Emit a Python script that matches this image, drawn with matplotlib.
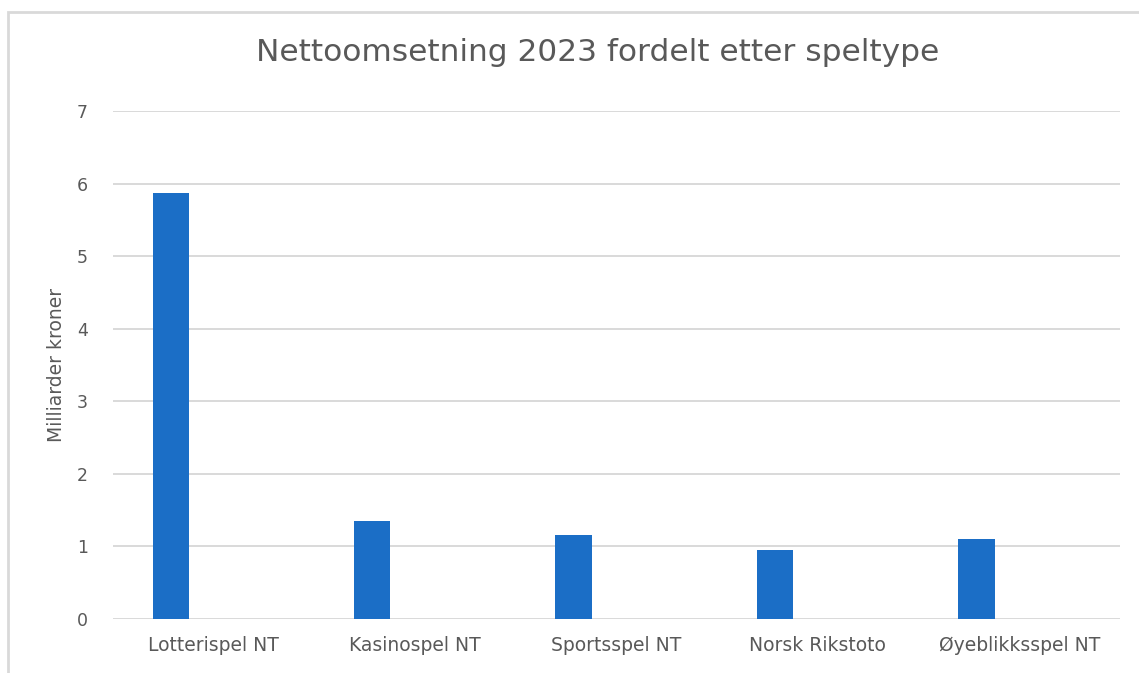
import numpy as np
import matplotlib.pyplot as plt
from matplotlib.patches import Rectangle

categories = ['Lotterispel NT', 'Kasinospel NT', 'Sportsspel NT', 'Norsk Rikstoto', 'Øyeblikksspel NT']
values = [5.87, 1.35, 1.16, 0.945, 1.105]
yticks = [0, 1, 2, 3, 4, 5, 6, 7]

grey = '#595959'

fig = plt.figure(figsize=(11.39, 6.73), dpi=100)
ax = fig.add_axes([0.0992, 0.0802, 0.8841, 0.7548])

# outer chart border (only top and left visible in the reference)
fig.patches.append(Rectangle((8 / 1139, -0.1), 1.2, 1 - 12 / 673 + 0.1,
                             transform=fig.transFigure, fill=False,
                             edgecolor='#d9d9d9', linewidth=2))

x = np.arange(len(categories))
ax.bar(x - 0.213, values, width=0.18, color='#1B6EC6', zorder=3)

ax.set_xlim(-0.5, len(categories) - 0.5)
ax.set_ylim(0, 7)
ax.set_yticks(yticks)
ax.set_xticks(x)
ax.set_xticklabels(categories)
ax.yaxis.grid(True, color='#d9d9d9', linewidth=1.4, zorder=0)
ax.set_axisbelow(True)
for s in ax.spines.values():
    s.set_visible(False)
ax.tick_params(axis='both', length=0, labelcolor=grey)
ax.tick_params(axis='y', pad=18, labelsize=12.5)
ax.tick_params(axis='x', pad=12, labelsize=13.5)

ax.set_ylabel('Milliarder kroner', fontsize=13.5, color=grey, labelpad=8)
fig.text(0.525, 0.922, 'Nettoomsetning 2023 fordelt etter speltype',
         ha='center', va='center', fontsize=22.5, color=grey)

fig.savefig('out.png', dpi=100, facecolor='white')
